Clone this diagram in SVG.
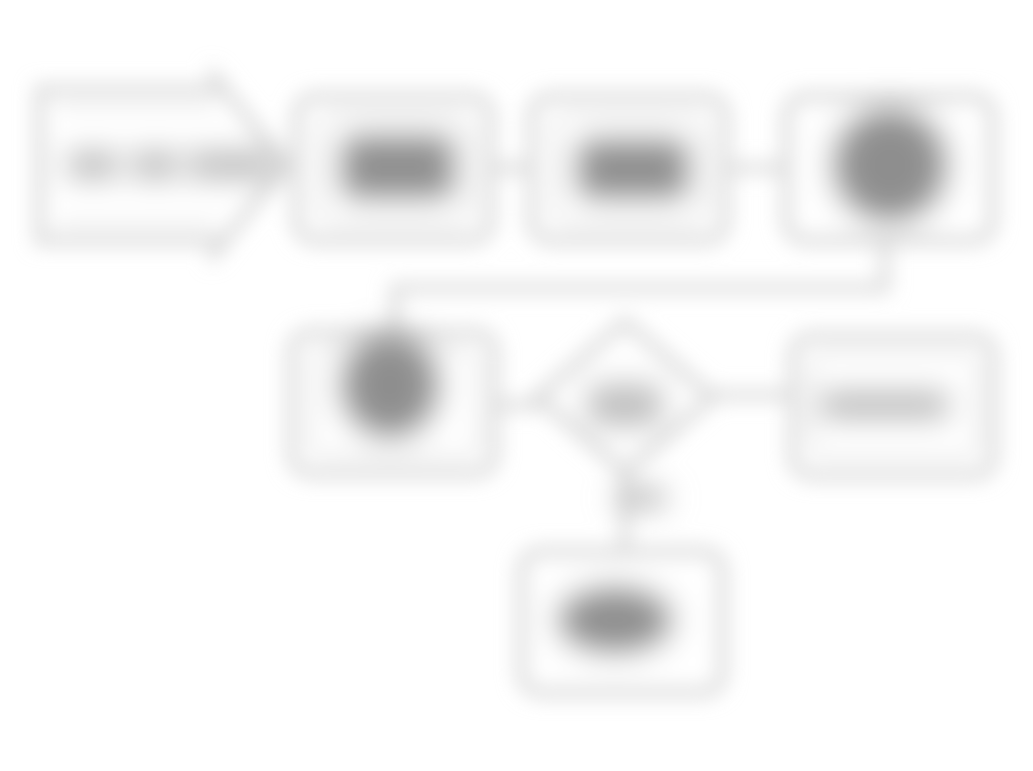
<svg xmlns="http://www.w3.org/2000/svg" width="1033" height="771" viewBox="0 0 1033 771">
<defs>
<filter id="blur" x="-10%" y="-10%" width="120%" height="120%"><feGaussianBlur stdDeviation="10"/></filter>
<filter id="soft" x="-50%" y="-50%" width="200%" height="200%"><feGaussianBlur stdDeviation="12"/></filter>
<style>
.box{fill:#ffffff;stroke:#d6d6d6;stroke-width:10}
.inner{fill:none;stroke:#efefef;stroke-width:9}
.line{fill:none;stroke:#d6d6d6;stroke-width:9}
.blob{fill:#8e8e8e;filter:url(#soft)}
.light{fill:#bdbdbd;filter:url(#soft)}
</style>
</defs>
<rect width="1033" height="771" fill="#ffffff"/>
<g filter="url(#blur)">
<g id="connectors">
<path class="line" d="M495,168 L530,168"/>
<path class="line" d="M730,168 L785,168"/>
<path class="line" d="M885,240 L885,288 L395,288 L395,330"/>
<path class="line" d="M498,405 L540,405"/>
<path class="line" d="M710,395 L790,395"/>
<path class="line" d="M625,470 L625,550"/>
<rect class="light" x="618" y="486" width="46" height="24"/>
</g>
<g id="node1">
<path class="box" d="M40,90 L215,90 L215,78 L285,165 L215,252 L215,240 L40,240 Z"/>
<path class="inner" d="M60,108 L215,108 M60,222 L215,222"/>
<rect class="light" x="68" y="150" width="50" height="30"/>
<rect class="light" x="132" y="150" width="46" height="30"/>
<rect class="light" x="188" y="150" width="90" height="30"/>
</g>
<g id="node2">
<rect class="box" x="297" y="97" width="193" height="143" rx="18"/>
<rect class="inner" x="320" y="115" width="150" height="108" rx="14"/>
<rect class="blob" x="342" y="136" width="112" height="62" rx="12" fill="#808080"/>
</g>
<g id="node3">
<rect class="box" x="532" y="97" width="193" height="143" rx="18"/>
<rect class="inner" x="555" y="115" width="150" height="108" rx="14"/>
<rect class="blob" x="578" y="140" width="110" height="58" rx="12"/>
</g>
<g id="node4">
<rect class="box" x="787" y="97" width="205" height="143" rx="18"/>
<circle class="blob" cx="890" cy="165" r="56" fill="#808080"/>
</g>
<g id="node5">
<rect class="box" x="292" y="333" width="202" height="140" rx="18"/>
<rect class="inner" x="312" y="350" width="165" height="105" rx="14"/>
<ellipse class="blob" cx="390" cy="385" rx="48" ry="52" fill="#777777"/>
</g>
<g id="node6">
<polygon class="box" points="625,322 712,397 625,472 538,397"/>
<rect class="light" x="588" y="384" width="74" height="42" rx="10" fill="#aaaaaa"/>
</g>
<g id="node7">
<rect class="box" x="793" y="337" width="200" height="138" rx="18"/>
<rect class="inner" x="812" y="355" width="165" height="100" rx="14"/>
<rect class="light" x="820" y="390" width="128" height="30"/>
</g>
<g id="node8">
<rect class="box" x="522" y="552" width="200" height="140" rx="18"/>
<ellipse class="blob" cx="615" cy="620" rx="56" ry="32"/>
</g>
</g>
</svg>
